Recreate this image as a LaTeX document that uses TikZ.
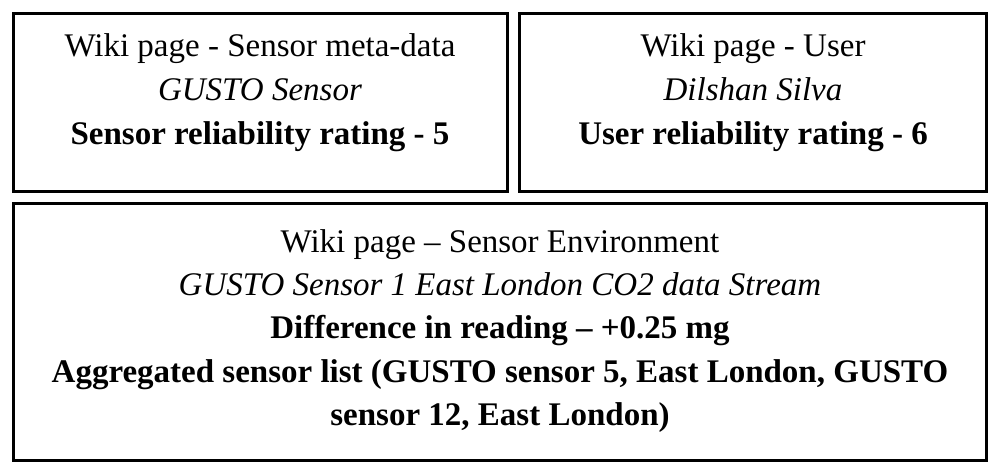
\documentclass[tikz,border=0pt]{standalone}
\usepackage{fontspec}
\setmainfont{Liberation Serif}
\begin{document}
\begin{tikzpicture}[x=1pt,y=-1pt,
  box/.style={draw=black,line width=2.6pt,inner sep=0pt},
  ln/.style={anchor=base,inner sep=0pt,font=\fontsize{33}{36}\selectfont}]
\useasboundingbox (0,0) rectangle (1000,474);
\node[box,minimum width=494,minimum height=178] (b1) at (260.5,102.5) {};
\node[box,minimum width=467,minimum height=178] (b2) at (753,102.5) {};
\node[box,minimum width=973,minimum height=257] (b3) at (500,332) {};
% box 1
\node[ln] (t11) at (260,56) {Wiki page - Sensor meta-data};
\node[ln] (t12) at (260,100) {\itshape GUSTO Sensor};
\node[ln] (t13) at (260,144) {\bfseries Sensor reliability rating - 5};
% box 2
\node[ln] (t21) at (753,56) {Wiki page - User};
\node[ln] (t22) at (753,100) {\itshape Dilshan Silva};
\node[ln] (t23) at (753,144) {\bfseries User reliability rating - 6};
% box 3
\node[ln] (t31) at (500,252) {Wiki page – Sensor Environment};
\node[ln] (t32) at (500,295.3) {\itshape GUSTO Sensor 1 East London CO2 data Stream};
\node[ln] (t33) at (500,338.6) {\bfseries Difference in reading – +0.25 mg};
\node[ln] (t34) at (500,382) {\bfseries Aggregated sensor list (GUSTO sensor 5, East London, GUSTO};
\node[ln] (t35) at (500,425.3) {\bfseries sensor 12, East London)};
\end{tikzpicture}
\end{document}
